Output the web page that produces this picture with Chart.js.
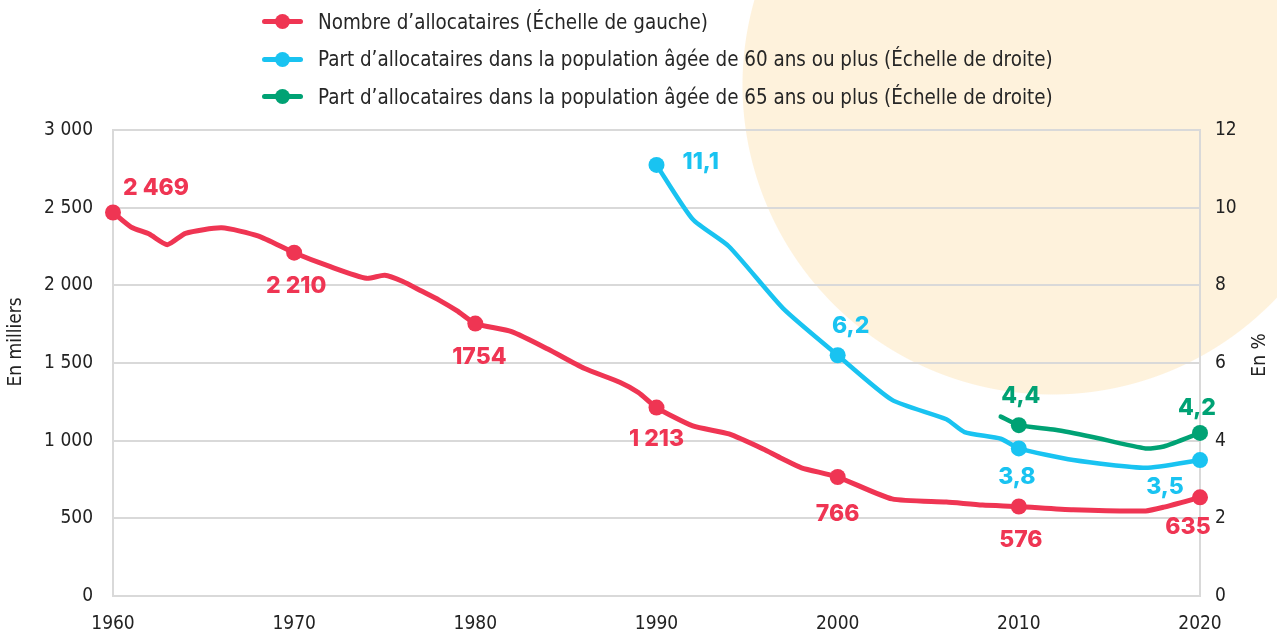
<!DOCTYPE html>
<html lang="fr">
<head>
<meta charset="utf-8">
<title>Allocataires du minimum vieillesse</title>
<script src="https://cdn.jsdelivr.net/npm/chart.js@4.4.1/dist/chart.umd.min.js"></script>
<style>
  html, body { margin: 0; padding: 0; background: #fff; }
  #cadre {
    position: relative;
    width: 1277px;
    height: 634px;
    background: radial-gradient(circle 310px at 1052px 85px, #fef2dc 309px, #ffffff 310px);
  }
  #legende {
    position: absolute;
    left: 262px;
    top: 3px;
    font-family: 'Liberation Sans Narrow', 'DejaVu Sans Condensed', sans-serif;
    font-size: 20.4px;
    color: #262626;
  }
  .item { display: flex; align-items: center; height: 37.5px; white-space: nowrap; }
  .trait { position: relative; width: 41px; height: 5px; border-radius: 3px; margin-right: 15px; }
  .trait::after {
    content: ''; position: absolute; left: 13px; top: -5px;
    width: 15px; height: 15px; border-radius: 50%; background: inherit;
  }
</style>
</head>
<body>
<div id="cadre">
  <canvas id="graphique"></canvas>
  <div id="legende"></div>
</div>
<script>
// Nombre d'allocataires (en milliers), échelle de gauche
const anneesAlloc = [1960, 1961, 1962, 1963, 1964, 1966, 1968, 1970, 1972, 1974, 1975, 1976, 1977, 1978, 1979, 1980,
  1982, 1984, 1986, 1988, 1989, 1990, 1992, 1994, 1996, 1997, 1998, 2000, 2003, 2006, 2008, 2010, 2013, 2017, 2018, 2020];
const nbAllocataires = [2469, 2375, 2330, 2262, 2335, 2370, 2318, 2210, 2120, 2045, 2065, 2025, 1965, 1905, 1835, 1754,
  1702, 1590, 1466, 1375, 1310, 1213, 1095, 1043, 940, 880, 825, 766, 625, 605, 586, 576, 555, 548, 572, 635];

// Part dans la population de 60 ans ou plus (en %), échelle de droite
const anneesPart60 = [1990, 1992, 1994, 1997, 2000, 2003, 2006, 2007, 2009, 2010, 2013, 2017, 2020];
const part60 = [11.1, 9.7, 9.0, 7.4, 6.2, 5.05, 4.55, 4.22, 4.05, 3.8, 3.5, 3.3, 3.5];

// Part dans la population de 65 ans ou plus (en %), échelle de droite
const anneesPart65 = [2009, 2010, 2012, 2014, 2017, 2018, 2020];
const part65 = [4.62, 4.4, 4.28, 4.1, 3.8, 3.85, 4.2];

// Points marqués et leurs étiquettes
const marquesAlloc = [1960, 1970, 1980, 1990, 2000, 2010, 2020];
const textesAlloc = ['2 469', '2 210', '1754', '1 213', '766', '576', '635'];
const marquesPart60 = [1990, 2000, 2010, 2020];
const textesPart60 = ['11,1', '6,2', '3,8', '3,5'];
const marquesPart65 = [2010, 2020];
const textesPart65 = ['4,4', '4,2'];

const rouge = '#ef3553';
const bleu = '#19c3f1';
const vert = '#00a274';
const police = "'Liberation Sans Narrow', 'DejaVu Sans Condensed', sans-serif";

// décalages des étiquettes par rapport au point [dx, dy, alignement]
const placeAlloc = [[10, -24, 'left'], [2, 33], [4, 34], [0, 31], [0, 37], [2, 34], [-12, 30]];
const placePart60 = [[26, -3, 'left'], [13, -29], [-2, 29], [-35, 27]];
const placePart65 = [[2, -29], [-3, -25]];

function points(annees, valeurs) {
  return annees.map((a, i) => ({ x: a, y: valeurs[i] }));
}

function milliers(v) {
  return String(v).replace(/\B(?=(\d{3})+(?!\d))/g, ' ');
}

const series = [
  { label: "Nombre d\u2019allocataires (\u00c9chelle de gauche)", annees: anneesAlloc, valeurs: nbAllocataires,
    couleur: rouge, axe: 'y', marques: marquesAlloc, textes: textesAlloc, places: placeAlloc, epaisseur: 5 },
  { label: "Part d\u2019allocataires dans la population \u00e2g\u00e9e de 60 ans ou plus (\u00c9chelle de droite)", annees: anneesPart60, valeurs: part60,
    couleur: bleu, axe: 'y2', marques: marquesPart60, textes: textesPart60, places: placePart60, epaisseur: 4.5 },
  { label: "Part d\u2019allocataires dans la population \u00e2g\u00e9e de 65 ans ou plus (\u00c9chelle de droite)", annees: anneesPart65, valeurs: part65,
    couleur: vert, axe: 'y2', marques: marquesPart65, textes: textesPart65, places: placePart65, epaisseur: 4.5 }
];

// légende HTML alignée à gauche
const legende = document.getElementById('legende');
series.forEach(s => {
  const item = document.createElement('div');
  item.className = 'item';
  const trait = document.createElement('span');
  trait.className = 'trait';
  trait.style.background = s.couleur;
  const texte = document.createElement('span');
  texte.textContent = s.label;
  item.appendChild(trait);
  item.appendChild(texte);
  legende.appendChild(item);
});

// étiquettes de valeurs + titres d'axes (lus de bas en haut des deux côtés)
const etiquettes = {
  id: 'etiquettes',
  afterDatasetsDraw(chart) {
    const ctx = chart.ctx;
    series.forEach((s, di) => {
      const meta = chart.getDatasetMeta(di);
      s.marques.forEach((annee, k) => {
        const pt = meta.data[s.annees.indexOf(annee)];
        const p = s.places[k];
        ctx.save();
        ctx.font = "800 23px Inter, Roboto, sans-serif";
        ctx.fillStyle = s.couleur;
        ctx.textAlign = p[2] || 'center';
        ctx.textBaseline = 'middle';
        ctx.fillText(s.textes[k], pt.x + p[0], pt.y + p[1]);
        ctx.restore();
      });
    });

    const a = chart.chartArea;
    const milieu = (a.top + a.bottom) / 2;
    ctx.save();
    ctx.font = '19px ' + police;
    ctx.fillStyle = '#222';
    ctx.textAlign = 'center';
    ctx.textBaseline = 'middle';
    ctx.translate(16, milieu - 21);
    ctx.rotate(-Math.PI / 2);
    ctx.fillText('En milliers', 0, 0);
    ctx.restore();
    ctx.save();
    ctx.font = '19px ' + police;
    ctx.fillStyle = '#222';
    ctx.textAlign = 'center';
    ctx.textBaseline = 'middle';
    ctx.translate(chart.width - 17, milieu - 8);
    ctx.rotate(-Math.PI / 2);
    ctx.fillText('En %', 0, 0);
    ctx.restore();
  }
};

Chart.defaults.font.family = police;
Chart.defaults.color = '#222';

const grille = '#d9d9d9';

new Chart(document.getElementById('graphique'), {
  type: 'line',
  data: {
    datasets: series.map(s => ({
      label: s.label,
      data: points(s.annees, s.valeurs),
      yAxisID: s.axe,
      borderColor: s.couleur,
      backgroundColor: s.couleur,
      borderWidth: s.epaisseur,
      borderJoinStyle: 'round',
      borderCapStyle: 'round',
      tension: 0.2,
      clip: false,
      pointRadius: ctx => (s.marques.includes(s.annees[ctx.dataIndex]) ? 8 : 0),
      pointHoverRadius: 8,
      pointBorderWidth: 0,
      fill: false
    }))
  },
  options: {
    responsive: true,
    maintainAspectRatio: false,
    animation: false,
    layout: { padding: { top: 130, left: 0, right: 0, bottom: 0 } },
    plugins: {
      legend: { display: false },
      tooltip: { enabled: false }
    },
    scales: {
      x: {
        type: 'linear',
        min: 1960,
        max: 2020,
        grid: { display: false, drawTicks: false },
        border: { display: true, color: grille, width: 2 },
        ticks: { stepSize: 10, padding: 17, font: { size: 19 }, callback: v => String(v) },
        afterFit: s => { s.height = 38; }
      },
      y: {
        position: 'left',
        min: 0,
        max: 3000,
        grid: { color: grille, lineWidth: 2, drawTicks: false },
        border: { display: true, color: grille, width: 2 },
        ticks: { stepSize: 500, padding: 20, font: { size: 19 }, callback: v => milliers(v) },
        afterFit: s => { s.width = 113; }
      },
      y2: {
        position: 'right',
        min: 0,
        max: 12,
        grid: { display: false, drawTicks: false },
        border: { display: true, color: grille, width: 2 },
        ticks: { stepSize: 2, padding: 15, font: { size: 19 } },
        afterFit: s => { s.width = 77; }
      }
    }
  },
  plugins: [etiquettes]
});
</script>
</body>
</html>
